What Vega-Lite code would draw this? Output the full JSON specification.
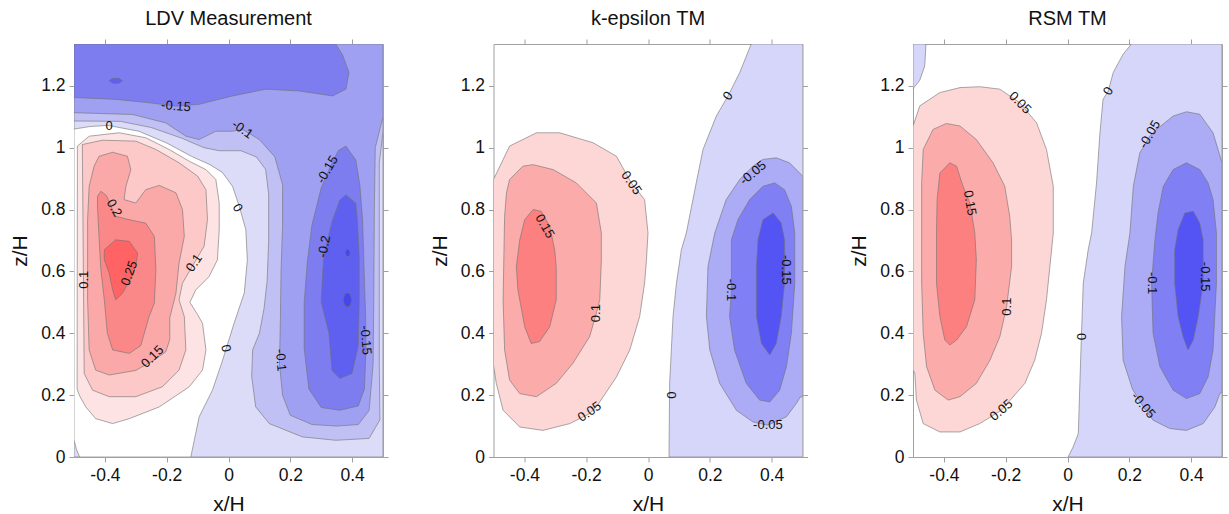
{
"$schema":"https://vega.github.io/schema/vega-lite/v6.json",
"padding":{"left":9,"top":8,"right":0,"bottom":0},
"spacing":39.5,
"config":{"font":"Liberation Sans","view":{"stroke":"#a0a0a0","strokeWidth":1},
"axis":{"labelFont":"Liberation Sans","labelFontSize":17.5,"labelColor":"#111","titleFont":"Liberation Sans","titleFontSize":21,"titleFontWeight":"normal","titleColor":"#111","tickColor":"#a0a0a0","tickSize":5,"domain":false,"grid":false,"labelPadding":4,"titlePadding":10},
"title":{"font":"Liberation Sans","fontSize":20,"fontWeight":"normal","color":"#111","frame":"group","offset":10}},
"datasets":{
"ldv":[
{"p":"l0","l":"L-1","x":-0.5,"z":0},{"p":"l0","l":"L-1","x":-0.5,"z":1.335},{"p":"l0","l":"L-1","x":0.5,"z":1.335},{"p":"l0","l":"L-1","x":0.5,"z":0},{"p":"l0","l":"L-1","x":-0.5,"z":0},
{"p":"l1","l":"L-2","x":-0.5,"z":1.086},{"p":"l1","l":"L-2","x":-0.5,"z":1.335},{"p":"l1","l":"L-2","x":0.5,"z":1.335},{"p":"l1","l":"L-2","x":0.5,"z":1.05},{"p":"l1","l":"L-2","x":0.488,"z":0.95},{"p":"l1","l":"L-2","x":0.488,"z":0.5},{"p":"l1","l":"L-2","x":0.488,"z":0.3},{"p":"l1","l":"L-2","x":0.49,"z":0.12},{"p":"l1","l":"L-2","x":0.455,"z":0.06},{"p":"l1","l":"L-2","x":0.347,"z":0.054},{"p":"l1","l":"L-2","x":0.239,"z":0.065},{"p":"l1","l":"L-2","x":0.132,"z":0.108},{"p":"l1","l":"L-2","x":0.088,"z":0.162},{"p":"l1","l":"L-2","x":0.075,"z":0.26},{"p":"l1","l":"L-2","x":0.078,"z":0.346},{"p":"l1","l":"L-2","x":0.1,"z":0.4},{"p":"l1","l":"L-2","x":0.115,"z":0.48},{"p":"l1","l":"L-2","x":0.125,"z":0.57},{"p":"l1","l":"L-2","x":0.13,"z":0.7},{"p":"l1","l":"L-2","x":0.13,"z":0.85},{"p":"l1","l":"L-2","x":0.12,"z":0.93},{"p":"l1","l":"L-2","x":0.09,"z":0.97},{"p":"l1","l":"L-2","x":0.04,"z":0.99},{"p":"l1","l":"L-2","x":-0.03,"z":0.99},{"p":"l1","l":"L-2","x":-0.08,"z":1.0},{"p":"l1","l":"L-2","x":-0.15,"z":1.03},{"p":"l1","l":"L-2","x":-0.25,"z":1.065},{"p":"l1","l":"L-2","x":-0.35,"z":1.085},{"p":"l1","l":"L-2","x":-0.5,"z":1.086},
{"p":"l2","l":"L-3","x":-0.5,"z":1.113},{"p":"l2","l":"L-3","x":-0.5,"z":1.335},{"p":"l2","l":"L-3","x":0.5,"z":1.335},{"p":"l2","l":"L-3","x":0.5,"z":1.1},{"p":"l2","l":"L-3","x":0.475,"z":1.0},{"p":"l2","l":"L-3","x":0.472,"z":0.8},{"p":"l2","l":"L-3","x":0.47,"z":0.5},{"p":"l2","l":"L-3","x":0.468,"z":0.3},{"p":"l2","l":"L-3","x":0.455,"z":0.15},{"p":"l2","l":"L-3","x":0.42,"z":0.105},{"p":"l2","l":"L-3","x":0.35,"z":0.1},{"p":"l2","l":"L-3","x":0.27,"z":0.105},{"p":"l2","l":"L-3","x":0.2,"z":0.135},{"p":"l2","l":"L-3","x":0.175,"z":0.2},{"p":"l2","l":"L-3","x":0.165,"z":0.3},{"p":"l2","l":"L-3","x":0.168,"z":0.45},{"p":"l2","l":"L-3","x":0.17,"z":0.6},{"p":"l2","l":"L-3","x":0.175,"z":0.75},{"p":"l2","l":"L-3","x":0.175,"z":0.88},{"p":"l2","l":"L-3","x":0.15,"z":0.97},{"p":"l2","l":"L-3","x":0.1,"z":1.026},{"p":"l2","l":"L-3","x":0.045,"z":1.059},{"p":"l2","l":"L-3","x":0.013,"z":1.053},{"p":"l2","l":"L-3","x":-0.041,"z":1.053},{"p":"l2","l":"L-3","x":-0.095,"z":1.026},{"p":"l2","l":"L-3","x":-0.138,"z":1.037},{"p":"l2","l":"L-3","x":-0.203,"z":1.08},{"p":"l2","l":"L-3","x":-0.31,"z":1.107},{"p":"l2","l":"L-3","x":-0.5,"z":1.113},
{"p":"l3","l":"L-4","x":-0.5,"z":1.162},{"p":"l3","l":"L-4","x":-0.5,"z":1.335},{"p":"l3","l":"L-4","x":0.347,"z":1.335},{"p":"l3","l":"L-4","x":0.369,"z":1.3},{"p":"l3","l":"L-4","x":0.39,"z":1.243},{"p":"l3","l":"L-4","x":0.38,"z":1.189},{"p":"l3","l":"L-4","x":0.337,"z":1.167},{"p":"l3","l":"L-4","x":0.229,"z":1.183},{"p":"l3","l":"L-4","x":0.121,"z":1.189},{"p":"l3","l":"L-4","x":0.013,"z":1.167},{"p":"l3","l":"L-4","x":-0.095,"z":1.14},{"p":"l3","l":"L-4","x":-0.17,"z":1.134},{"p":"l3","l":"L-4","x":-0.257,"z":1.145},{"p":"l3","l":"L-4","x":-0.365,"z":1.156},{"p":"l3","l":"L-4","x":-0.5,"z":1.162},
{"p":"l4","l":"L-4","x":0.38,"z":1.005},{"p":"l4","l":"L-4","x":0.412,"z":0.96},{"p":"l4","l":"L-4","x":0.425,"z":0.88},{"p":"l4","l":"L-4","x":0.434,"z":0.767},{"p":"l4","l":"L-4","x":0.439,"z":0.6},{"p":"l4","l":"L-4","x":0.444,"z":0.45},{"p":"l4","l":"L-4","x":0.445,"z":0.35},{"p":"l4","l":"L-4","x":0.44,"z":0.22},{"p":"l4","l":"L-4","x":0.42,"z":0.165},{"p":"l4","l":"L-4","x":0.36,"z":0.151},{"p":"l4","l":"L-4","x":0.3,"z":0.16},{"p":"l4","l":"L-4","x":0.26,"z":0.22},{"p":"l4","l":"L-4","x":0.245,"z":0.35},{"p":"l4","l":"L-4","x":0.245,"z":0.5},{"p":"l4","l":"L-4","x":0.255,"z":0.63},{"p":"l4","l":"L-4","x":0.27,"z":0.75},{"p":"l4","l":"L-4","x":0.3,"z":0.87},{"p":"l4","l":"L-4","x":0.33,"z":0.94},{"p":"l4","l":"L-4","x":0.355,"z":0.99},{"p":"l4","l":"L-4","x":0.38,"z":1.005},
{"p":"l5","l":"L-5","x":0.38,"z":0.848},{"p":"l5","l":"L-5","x":0.412,"z":0.82},{"p":"l5","l":"L-5","x":0.417,"z":0.767},{"p":"l5","l":"L-5","x":0.423,"z":0.65},{"p":"l5","l":"L-5","x":0.423,"z":0.5},{"p":"l5","l":"L-5","x":0.42,"z":0.36},{"p":"l5","l":"L-5","x":0.4,"z":0.27},{"p":"l5","l":"L-5","x":0.36,"z":0.254},{"p":"l5","l":"L-5","x":0.335,"z":0.28},{"p":"l5","l":"L-5","x":0.325,"z":0.4},{"p":"l5","l":"L-5","x":0.3,"z":0.5},{"p":"l5","l":"L-5","x":0.305,"z":0.6},{"p":"l5","l":"L-5","x":0.31,"z":0.66},{"p":"l5","l":"L-5","x":0.337,"z":0.767},{"p":"l5","l":"L-5","x":0.36,"z":0.83},{"p":"l5","l":"L-5","x":0.38,"z":0.848},
{"p":"l6","l":"L-5","x":-0.387,"z":1.216},{"p":"l6","l":"L-5","x":-0.375,"z":1.224},{"p":"l6","l":"L-5","x":-0.355,"z":1.224},{"p":"l6","l":"L-5","x":-0.343,"z":1.216},{"p":"l6","l":"L-5","x":-0.355,"z":1.208},{"p":"l6","l":"L-5","x":-0.375,"z":1.208},{"p":"l6","l":"L-5","x":-0.387,"z":1.216},
{"p":"l7","l":"L-6","x":0.371,"z":0.508},{"p":"l7","l":"L-6","x":0.376,"z":0.526},{"p":"l7","l":"L-6","x":0.385,"z":0.531},{"p":"l7","l":"L-6","x":0.394,"z":0.526},{"p":"l7","l":"L-6","x":0.399,"z":0.508},{"p":"l7","l":"L-6","x":0.394,"z":0.49},{"p":"l7","l":"L-6","x":0.385,"z":0.485},{"p":"l7","l":"L-6","x":0.376,"z":0.49},{"p":"l7","l":"L-6","x":0.371,"z":0.508},
{"p":"l8","l":"L-6","x":0.378,"z":0.66},{"p":"l8","l":"L-6","x":0.381,"z":0.669},{"p":"l8","l":"L-6","x":0.386,"z":0.672},{"p":"l8","l":"L-6","x":0.391,"z":0.669},{"p":"l8","l":"L-6","x":0.394,"z":0.66},{"p":"l8","l":"L-6","x":0.391,"z":0.651},{"p":"l8","l":"L-6","x":0.386,"z":0.648},{"p":"l8","l":"L-6","x":0.381,"z":0.651},{"p":"l8","l":"L-6","x":0.378,"z":0.66},
{"p":"l9","l":"W","x":-0.5,"z":0.055},{"p":"l9","l":"W","x":-0.5,"z":1.06},{"p":"l9","l":"W","x":-0.45,"z":1.068},{"p":"l9","l":"W","x":-0.39,"z":1.072},{"p":"l9","l":"W","x":-0.29,"z":1.053},{"p":"l9","l":"W","x":-0.2,"z":1.015},{"p":"l9","l":"W","x":-0.12,"z":0.972},{"p":"l9","l":"W","x":-0.06,"z":0.945},{"p":"l9","l":"W","x":-0.02,"z":0.92},{"p":"l9","l":"W","x":0.013,"z":0.875},{"p":"l9","l":"W","x":0.035,"z":0.81},{"p":"l9","l":"W","x":0.056,"z":0.735},{"p":"l9","l":"W","x":0.061,"z":0.637},{"p":"l9","l":"W","x":0.051,"z":0.53},{"p":"l9","l":"W","x":0.018,"z":0.432},{"p":"l9","l":"W","x":-0.009,"z":0.346},{"p":"l9","l":"W","x":-0.019,"z":0.313},{"p":"l9","l":"W","x":-0.052,"z":0.216},{"p":"l9","l":"W","x":-0.095,"z":0.13},{"p":"l9","l":"W","x":-0.122,"z":0},{"p":"l9","l":"W","x":-0.482,"z":0},{"p":"l9","l":"W","x":-0.492,"z":0.025},{"p":"l9","l":"W","x":-0.5,"z":0.055},
{"p":"la","l":"L+1","x":-0.49,"z":0.22},{"p":"la","l":"L+1","x":-0.489,"z":1.005},{"p":"la","l":"L+1","x":-0.451,"z":1.037},{"p":"la","l":"L+1","x":-0.354,"z":1.048},{"p":"la","l":"L+1","x":-0.268,"z":1.032},{"p":"la","l":"L+1","x":-0.192,"z":0.994},{"p":"la","l":"L+1","x":-0.127,"z":0.956},{"p":"la","l":"L+1","x":-0.073,"z":0.929},{"p":"la","l":"L+1","x":-0.041,"z":0.897},{"p":"la","l":"L+1","x":-0.03,"z":0.821},{"p":"la","l":"L+1","x":-0.03,"z":0.735},{"p":"la","l":"L+1","x":-0.036,"z":0.637},{"p":"la","l":"L+1","x":-0.063,"z":0.583},{"p":"la","l":"L+1","x":-0.106,"z":0.54},{"p":"la","l":"L+1","x":-0.125,"z":0.5},{"p":"la","l":"L+1","x":-0.1,"z":0.46},{"p":"la","l":"L+1","x":-0.084,"z":0.432},{"p":"la","l":"L+1","x":-0.073,"z":0.346},{"p":"la","l":"L+1","x":-0.084,"z":0.281},{"p":"la","l":"L+1","x":-0.127,"z":0.227},{"p":"la","l":"L+1","x":-0.224,"z":0.162},{"p":"la","l":"L+1","x":-0.321,"z":0.124},{"p":"la","l":"L+1","x":-0.375,"z":0.108},{"p":"la","l":"L+1","x":-0.43,"z":0.124},{"p":"la","l":"L+1","x":-0.462,"z":0.162},{"p":"la","l":"L+1","x":-0.483,"z":0.2},{"p":"la","l":"L+1","x":-0.49,"z":0.22},
{"p":"lb","l":"L+2","x":-0.467,"z":0.27},{"p":"lb","l":"L+2","x":-0.473,"z":1.01},{"p":"lb","l":"L+2","x":-0.408,"z":1.024},{"p":"lb","l":"L+2","x":-0.3,"z":1.021},{"p":"lb","l":"L+2","x":-0.235,"z":0.994},{"p":"lb","l":"L+2","x":-0.16,"z":0.951},{"p":"lb","l":"L+2","x":-0.1,"z":0.908},{"p":"lb","l":"L+2","x":-0.073,"z":0.864},{"p":"lb","l":"L+2","x":-0.068,"z":0.767},{"p":"lb","l":"L+2","x":-0.079,"z":0.681},{"p":"lb","l":"L+2","x":-0.111,"z":0.627},{"p":"lb","l":"L+2","x":-0.149,"z":0.562},{"p":"lb","l":"L+2","x":-0.16,"z":0.508},{"p":"lb","l":"L+2","x":-0.143,"z":0.454},{"p":"lb","l":"L+2","x":-0.138,"z":0.346},{"p":"lb","l":"L+2","x":-0.16,"z":0.281},{"p":"lb","l":"L+2","x":-0.214,"z":0.227},{"p":"lb","l":"L+2","x":-0.3,"z":0.195},{"p":"lb","l":"L+2","x":-0.386,"z":0.195},{"p":"lb","l":"L+2","x":-0.44,"z":0.216},{"p":"lb","l":"L+2","x":-0.467,"z":0.27},
{"p":"lc","l":"L+3","x":-0.435,"z":0.94},{"p":"lc","l":"L+3","x":-0.419,"z":0.972},{"p":"lc","l":"L+3","x":-0.375,"z":0.985},{"p":"lc","l":"L+3","x":-0.327,"z":0.972},{"p":"lc","l":"L+3","x":-0.316,"z":0.929},{"p":"lc","l":"L+3","x":-0.332,"z":0.875},{"p":"lc","l":"L+3","x":-0.338,"z":0.832},{"p":"lc","l":"L+3","x":-0.3,"z":0.821},{"p":"lc","l":"L+3","x":-0.268,"z":0.864},{"p":"lc","l":"L+3","x":-0.224,"z":0.878},{"p":"lc","l":"L+3","x":-0.17,"z":0.854},{"p":"lc","l":"L+3","x":-0.149,"z":0.8},{"p":"lc","l":"L+3","x":-0.143,"z":0.713},{"p":"lc","l":"L+3","x":-0.16,"z":0.627},{"p":"lc","l":"L+3","x":-0.17,"z":0.53},{"p":"lc","l":"L+3","x":-0.19,"z":0.45},{"p":"lc","l":"L+3","x":-0.19,"z":0.38},{"p":"lc","l":"L+3","x":-0.203,"z":0.34},{"p":"lc","l":"L+3","x":-0.246,"z":0.31},{"p":"lc","l":"L+3","x":-0.3,"z":0.28},{"p":"lc","l":"L+3","x":-0.386,"z":0.265},{"p":"lc","l":"L+3","x":-0.43,"z":0.281},{"p":"lc","l":"L+3","x":-0.451,"z":0.346},{"p":"lc","l":"L+3","x":-0.456,"z":0.508},{"p":"lc","l":"L+3","x":-0.456,"z":0.767},{"p":"lc","l":"L+3","x":-0.451,"z":0.875},{"p":"lc","l":"L+3","x":-0.435,"z":0.94},
{"p":"ld","l":"L+4","x":-0.424,"z":0.843},{"p":"ld","l":"L+4","x":-0.413,"z":0.859},{"p":"ld","l":"L+4","x":-0.395,"z":0.845},{"p":"ld","l":"L+4","x":-0.38,"z":0.81},{"p":"ld","l":"L+4","x":-0.365,"z":0.778},{"p":"ld","l":"L+4","x":-0.321,"z":0.767},{"p":"ld","l":"L+4","x":-0.268,"z":0.756},{"p":"ld","l":"L+4","x":-0.24,"z":0.713},{"p":"ld","l":"L+4","x":-0.235,"z":0.605},{"p":"ld","l":"L+4","x":-0.24,"z":0.497},{"p":"ld","l":"L+4","x":-0.257,"z":0.454},{"p":"ld","l":"L+4","x":-0.284,"z":0.36},{"p":"ld","l":"L+4","x":-0.321,"z":0.335},{"p":"ld","l":"L+4","x":-0.375,"z":0.346},{"p":"ld","l":"L+4","x":-0.392,"z":0.4},{"p":"ld","l":"L+4","x":-0.402,"z":0.508},{"p":"ld","l":"L+4","x":-0.413,"z":0.605},{"p":"ld","l":"L+4","x":-0.419,"z":0.713},{"p":"ld","l":"L+4","x":-0.424,"z":0.81},{"p":"ld","l":"L+4","x":-0.424,"z":0.843},
{"p":"le","l":"L+5","x":-0.402,"z":0.67},{"p":"le","l":"L+5","x":-0.365,"z":0.702},{"p":"le","l":"L+5","x":-0.321,"z":0.697},{"p":"le","l":"L+5","x":-0.294,"z":0.659},{"p":"le","l":"L+5","x":-0.3,"z":0.616},{"p":"le","l":"L+5","x":-0.32,"z":0.57},{"p":"le","l":"L+5","x":-0.343,"z":0.529},{"p":"le","l":"L+5","x":-0.365,"z":0.508},{"p":"le","l":"L+5","x":-0.375,"z":0.54},{"p":"le","l":"L+5","x":-0.386,"z":0.594},{"p":"le","l":"L+5","x":-0.402,"z":0.637},{"p":"le","l":"L+5","x":-0.402,"z":0.67}
],
"kep":[
{"p":"k0","l":"K-1","x":0.068,"z":0},{"p":"k0","l":"K-1","x":0.07,"z":0.238},{"p":"k0","l":"K-1","x":0.081,"z":0.454},{"p":"k0","l":"K-1","x":0.092,"z":0.562},{"p":"k0","l":"K-1","x":0.108,"z":0.67},{"p":"k0","l":"K-1","x":0.124,"z":0.724},{"p":"k0","l":"K-1","x":0.156,"z":0.886},{"p":"k0","l":"K-1","x":0.178,"z":0.994},{"p":"k0","l":"K-1","x":0.221,"z":1.102},{"p":"k0","l":"K-1","x":0.259,"z":1.167},{"p":"k0","l":"K-1","x":0.297,"z":1.243},{"p":"k0","l":"K-1","x":0.334,"z":1.335},{"p":"k0","l":"K-1","x":0.5,"z":1.335},{"p":"k0","l":"K-1","x":0.5,"z":0},{"p":"k0","l":"K-1","x":0.068,"z":0},
{"p":"k1","l":"K-2","x":0.34,"z":0.94},{"p":"k1","l":"K-2","x":0.372,"z":0.962},{"p":"k1","l":"K-2","x":0.415,"z":0.967},{"p":"k1","l":"K-2","x":0.458,"z":0.951},{"p":"k1","l":"K-2","x":0.491,"z":0.918},{"p":"k1","l":"K-2","x":0.5,"z":0.908},{"p":"k1","l":"K-2","x":0.5,"z":0.194},{"p":"k1","l":"K-2","x":0.493,"z":0.194},{"p":"k1","l":"K-2","x":0.48,"z":0.173},{"p":"k1","l":"K-2","x":0.448,"z":0.13},{"p":"k1","l":"K-2","x":0.388,"z":0.103},{"p":"k1","l":"K-2","x":0.34,"z":0.113},{"p":"k1","l":"K-2","x":0.286,"z":0.151},{"p":"k1","l":"K-2","x":0.232,"z":0.238},{"p":"k1","l":"K-2","x":0.2,"z":0.346},{"p":"k1","l":"K-2","x":0.189,"z":0.454},{"p":"k1","l":"K-2","x":0.194,"z":0.616},{"p":"k1","l":"K-2","x":0.216,"z":0.724},{"p":"k1","l":"K-2","x":0.253,"z":0.832},{"p":"k1","l":"K-2","x":0.297,"z":0.897},{"p":"k1","l":"K-2","x":0.34,"z":0.94},
{"p":"k2","l":"K-3","x":0.41,"z":0.886},{"p":"k2","l":"K-3","x":0.442,"z":0.864},{"p":"k2","l":"K-3","x":0.464,"z":0.81},{"p":"k2","l":"K-3","x":0.475,"z":0.724},{"p":"k2","l":"K-3","x":0.475,"z":0.562},{"p":"k2","l":"K-3","x":0.464,"z":0.4},{"p":"k2","l":"K-3","x":0.448,"z":0.292},{"p":"k2","l":"K-3","x":0.426,"z":0.216},{"p":"k2","l":"K-3","x":0.394,"z":0.178},{"p":"k2","l":"K-3","x":0.361,"z":0.184},{"p":"k2","l":"K-3","x":0.318,"z":0.238},{"p":"k2","l":"K-3","x":0.28,"z":0.346},{"p":"k2","l":"K-3","x":0.264,"z":0.454},{"p":"k2","l":"K-3","x":0.27,"z":0.54},{"p":"k2","l":"K-3","x":0.27,"z":0.702},{"p":"k2","l":"K-3","x":0.291,"z":0.767},{"p":"k2","l":"K-3","x":0.329,"z":0.832},{"p":"k2","l":"K-3","x":0.372,"z":0.875},{"p":"k2","l":"K-3","x":0.41,"z":0.886},
{"p":"k3","l":"K-4","x":0.405,"z":0.789},{"p":"k3","l":"K-4","x":0.431,"z":0.756},{"p":"k3","l":"K-4","x":0.442,"z":0.702},{"p":"k3","l":"K-4","x":0.442,"z":0.562},{"p":"k3","l":"K-4","x":0.431,"z":0.454},{"p":"k3","l":"K-4","x":0.415,"z":0.367},{"p":"k3","l":"K-4","x":0.394,"z":0.33},{"p":"k3","l":"K-4","x":0.367,"z":0.367},{"p":"k3","l":"K-4","x":0.351,"z":0.454},{"p":"k3","l":"K-4","x":0.351,"z":0.616},{"p":"k3","l":"K-4","x":0.356,"z":0.702},{"p":"k3","l":"K-4","x":0.372,"z":0.767},{"p":"k3","l":"K-4","x":0.405,"z":0.789},
{"p":"k4","l":"K+1","x":-0.5,"z":0.897},{"p":"k4","l":"K+1","x":-0.448,"z":1.005},{"p":"k4","l":"K+1","x":-0.361,"z":1.048},{"p":"k4","l":"K+1","x":-0.286,"z":1.048},{"p":"k4","l":"K+1","x":-0.178,"z":1.016},{"p":"k4","l":"K+1","x":-0.102,"z":0.972},{"p":"k4","l":"K+1","x":-0.054,"z":0.886},{"p":"k4","l":"K+1","x":-0.011,"z":0.832},{"p":"k4","l":"K+1","x":0,"z":0.724},{"p":"k4","l":"K+1","x":-0.005,"z":0.637},{"p":"k4","l":"K+1","x":-0.011,"z":0.562},{"p":"k4","l":"K+1","x":-0.027,"z":0.454},{"p":"k4","l":"K+1","x":-0.059,"z":0.346},{"p":"k4","l":"K+1","x":-0.102,"z":0.259},{"p":"k4","l":"K+1","x":-0.167,"z":0.162},{"p":"k4","l":"K+1","x":-0.189,"z":0.14},{"p":"k4","l":"K+1","x":-0.253,"z":0.108},{"p":"k4","l":"K+1","x":-0.34,"z":0.086},{"p":"k4","l":"K+1","x":-0.415,"z":0.097},{"p":"k4","l":"K+1","x":-0.469,"z":0.151},{"p":"k4","l":"K+1","x":-0.491,"z":0.238},{"p":"k4","l":"K+1","x":-0.5,"z":0.297},{"p":"k4","l":"K+1","x":-0.5,"z":0.897},
{"p":"k5","l":"K+2","x":-0.458,"z":0.854},{"p":"k5","l":"K+2","x":-0.448,"z":0.897},{"p":"k5","l":"K+2","x":-0.405,"z":0.94},{"p":"k5","l":"K+2","x":-0.372,"z":0.945},{"p":"k5","l":"K+2","x":-0.307,"z":0.929},{"p":"k5","l":"K+2","x":-0.232,"z":0.886},{"p":"k5","l":"K+2","x":-0.167,"z":0.821},{"p":"k5","l":"K+2","x":-0.151,"z":0.724},{"p":"k5","l":"K+2","x":-0.151,"z":0.637},{"p":"k5","l":"K+2","x":-0.156,"z":0.508},{"p":"k5","l":"K+2","x":-0.167,"z":0.465},{"p":"k5","l":"K+2","x":-0.189,"z":0.389},{"p":"k5","l":"K+2","x":-0.243,"z":0.303},{"p":"k5","l":"K+2","x":-0.297,"z":0.238},{"p":"k5","l":"K+2","x":-0.361,"z":0.195},{"p":"k5","l":"K+2","x":-0.415,"z":0.205},{"p":"k5","l":"K+2","x":-0.448,"z":0.249},{"p":"k5","l":"K+2","x":-0.464,"z":0.346},{"p":"k5","l":"K+2","x":-0.469,"z":0.508},{"p":"k5","l":"K+2","x":-0.464,"z":0.778},{"p":"k5","l":"K+2","x":-0.458,"z":0.854},
{"p":"k6","l":"K+3","x":-0.372,"z":0.8},{"p":"k6","l":"K+3","x":-0.345,"z":0.794},{"p":"k6","l":"K+3","x":-0.318,"z":0.746},{"p":"k6","l":"K+3","x":-0.302,"z":0.67},{"p":"k6","l":"K+3","x":-0.297,"z":0.616},{"p":"k6","l":"K+3","x":-0.297,"z":0.508},{"p":"k6","l":"K+3","x":-0.318,"z":0.421},{"p":"k6","l":"K+3","x":-0.351,"z":0.373},{"p":"k6","l":"K+3","x":-0.378,"z":0.367},{"p":"k6","l":"K+3","x":-0.399,"z":0.421},{"p":"k6","l":"K+3","x":-0.421,"z":0.54},{"p":"k6","l":"K+3","x":-0.426,"z":0.616},{"p":"k6","l":"K+3","x":-0.415,"z":0.702},{"p":"k6","l":"K+3","x":-0.399,"z":0.767},{"p":"k6","l":"K+3","x":-0.372,"z":0.8}
],
"rsm":[
{"p":"r0","l":"K-1","x":0.002,"z":0},{"p":"r0","l":"K-1","x":0.018,"z":0.032},{"p":"r0","l":"K-1","x":0.035,"z":0.076},{"p":"r0","l":"K-1","x":0.04,"z":0.238},{"p":"r0","l":"K-1","x":0.045,"z":0.389},{"p":"r0","l":"K-1","x":0.051,"z":0.562},{"p":"r0","l":"K-1","x":0.067,"z":0.67},{"p":"r0","l":"K-1","x":0.078,"z":0.724},{"p":"r0","l":"K-1","x":0.094,"z":0.886},{"p":"r0","l":"K-1","x":0.105,"z":1.048},{"p":"r0","l":"K-1","x":0.115,"z":1.156},{"p":"r0","l":"K-1","x":0.132,"z":1.183},{"p":"r0","l":"K-1","x":0.148,"z":1.243},{"p":"r0","l":"K-1","x":0.18,"z":1.302},{"p":"r0","l":"K-1","x":0.207,"z":1.335},{"p":"r0","l":"K-1","x":0.5,"z":1.335},{"p":"r0","l":"K-1","x":0.5,"z":0},{"p":"r0","l":"K-1","x":0.002,"z":0},
{"p":"r1","l":"K-1","x":-0.5,"z":1.19},{"p":"r1","l":"K-1","x":-0.478,"z":1.218},{"p":"r1","l":"K-1","x":-0.462,"z":1.264},{"p":"r1","l":"K-1","x":-0.458,"z":1.335},{"p":"r1","l":"K-1","x":-0.5,"z":1.335},{"p":"r1","l":"K-1","x":-0.5,"z":1.19},
{"p":"r2","l":"K-2","x":0.5,"z":0.951},{"p":"r2","l":"K-2","x":0.471,"z":1.048},{"p":"r2","l":"K-2","x":0.428,"z":1.108},{"p":"r2","l":"K-2","x":0.385,"z":1.116},{"p":"r2","l":"K-2","x":0.342,"z":1.102},{"p":"r2","l":"K-2","x":0.288,"z":1.059},{"p":"r2","l":"K-2","x":0.266,"z":1.037},{"p":"r2","l":"K-2","x":0.234,"z":0.983},{"p":"r2","l":"K-2","x":0.213,"z":0.875},{"p":"r2","l":"K-2","x":0.202,"z":0.724},{"p":"r2","l":"K-2","x":0.186,"z":0.616},{"p":"r2","l":"K-2","x":0.175,"z":0.454},{"p":"r2","l":"K-2","x":0.18,"z":0.313},{"p":"r2","l":"K-2","x":0.21,"z":0.22},{"p":"r2","l":"K-2","x":0.245,"z":0.162},{"p":"r2","l":"K-2","x":0.277,"z":0.119},{"p":"r2","l":"K-2","x":0.331,"z":0.092},{"p":"r2","l":"K-2","x":0.385,"z":0.086},{"p":"r2","l":"K-2","x":0.439,"z":0.108},{"p":"r2","l":"K-2","x":0.477,"z":0.162},{"p":"r2","l":"K-2","x":0.493,"z":0.205},{"p":"r2","l":"K-2","x":0.5,"z":0.21},{"p":"r2","l":"K-2","x":0.5,"z":0.951},
{"p":"r3","l":"K-3","x":0.428,"z":0.929},{"p":"r3","l":"K-3","x":0.455,"z":0.886},{"p":"r3","l":"K-3","x":0.471,"z":0.832},{"p":"r3","l":"K-3","x":0.482,"z":0.724},{"p":"r3","l":"K-3","x":0.482,"z":0.562},{"p":"r3","l":"K-3","x":0.471,"z":0.346},{"p":"r3","l":"K-3","x":0.455,"z":0.259},{"p":"r3","l":"K-3","x":0.428,"z":0.205},{"p":"r3","l":"K-3","x":0.385,"z":0.189},{"p":"r3","l":"K-3","x":0.342,"z":0.216},{"p":"r3","l":"K-3","x":0.299,"z":0.292},{"p":"r3","l":"K-3","x":0.277,"z":0.4},{"p":"r3","l":"K-3","x":0.272,"z":0.562},{"p":"r3","l":"K-3","x":0.283,"z":0.702},{"p":"r3","l":"K-3","x":0.293,"z":0.789},{"p":"r3","l":"K-3","x":0.31,"z":0.875},{"p":"r3","l":"K-3","x":0.342,"z":0.929},{"p":"r3","l":"K-3","x":0.385,"z":0.951},{"p":"r3","l":"K-3","x":0.428,"z":0.929},
{"p":"r4","l":"K-4","x":0.407,"z":0.794},{"p":"r4","l":"K-4","x":0.428,"z":0.756},{"p":"r4","l":"K-4","x":0.439,"z":0.702},{"p":"r4","l":"K-4","x":0.439,"z":0.562},{"p":"r4","l":"K-4","x":0.423,"z":0.454},{"p":"r4","l":"K-4","x":0.407,"z":0.378},{"p":"r4","l":"K-4","x":0.39,"z":0.346},{"p":"r4","l":"K-4","x":0.374,"z":0.389},{"p":"r4","l":"K-4","x":0.358,"z":0.454},{"p":"r4","l":"K-4","x":0.347,"z":0.562},{"p":"r4","l":"K-4","x":0.347,"z":0.67},{"p":"r4","l":"K-4","x":0.358,"z":0.735},{"p":"r4","l":"K-4","x":0.38,"z":0.789},{"p":"r4","l":"K-4","x":0.407,"z":0.794},
{"p":"r5","l":"K+1","x":-0.5,"z":1.07},{"p":"r5","l":"K+1","x":-0.478,"z":1.135},{"p":"r5","l":"K+1","x":-0.413,"z":1.178},{"p":"r5","l":"K+1","x":-0.348,"z":1.194},{"p":"r5","l":"K+1","x":-0.284,"z":1.197},{"p":"r5","l":"K+1","x":-0.219,"z":1.189},{"p":"r5","l":"K+1","x":-0.154,"z":1.145},{"p":"r5","l":"K+1","x":-0.1,"z":1.08},{"p":"r5","l":"K+1","x":-0.068,"z":0.994},{"p":"r5","l":"K+1","x":-0.046,"z":0.875},{"p":"r5","l":"K+1","x":-0.046,"z":0.724},{"p":"r5","l":"K+1","x":-0.057,"z":0.616},{"p":"r5","l":"K+1","x":-0.068,"z":0.508},{"p":"r5","l":"K+1","x":-0.084,"z":0.4},{"p":"r5","l":"K+1","x":-0.106,"z":0.313},{"p":"r5","l":"K+1","x":-0.138,"z":0.238},{"p":"r5","l":"K+1","x":-0.214,"z":0.151},{"p":"r5","l":"K+1","x":-0.284,"z":0.108},{"p":"r5","l":"K+1","x":-0.348,"z":0.081},{"p":"r5","l":"K+1","x":-0.413,"z":0.081},{"p":"r5","l":"K+1","x":-0.467,"z":0.108},{"p":"r5","l":"K+1","x":-0.489,"z":0.184},{"p":"r5","l":"K+1","x":-0.494,"z":0.27},{"p":"r5","l":"K+1","x":-0.5,"z":0.281},{"p":"r5","l":"K+1","x":-0.5,"z":1.07},
{"p":"r6","l":"K+2","x":-0.472,"z":0.886},{"p":"r6","l":"K+2","x":-0.467,"z":0.994},{"p":"r6","l":"K+2","x":-0.435,"z":1.059},{"p":"r6","l":"K+2","x":-0.392,"z":1.078},{"p":"r6","l":"K+2","x":-0.348,"z":1.07},{"p":"r6","l":"K+2","x":-0.295,"z":1.026},{"p":"r6","l":"K+2","x":-0.241,"z":0.951},{"p":"r6","l":"K+2","x":-0.203,"z":0.875},{"p":"r6","l":"K+2","x":-0.187,"z":0.778},{"p":"r6","l":"K+2","x":-0.181,"z":0.702},{"p":"r6","l":"K+2","x":-0.181,"z":0.616},{"p":"r6","l":"K+2","x":-0.197,"z":0.486},{"p":"r6","l":"K+2","x":-0.219,"z":0.389},{"p":"r6","l":"K+2","x":-0.251,"z":0.313},{"p":"r6","l":"K+2","x":-0.295,"z":0.238},{"p":"r6","l":"K+2","x":-0.348,"z":0.195},{"p":"r6","l":"K+2","x":-0.386,"z":0.184},{"p":"r6","l":"K+2","x":-0.429,"z":0.216},{"p":"r6","l":"K+2","x":-0.456,"z":0.292},{"p":"r6","l":"K+2","x":-0.467,"z":0.4},{"p":"r6","l":"K+2","x":-0.472,"z":0.562},{"p":"r6","l":"K+2","x":-0.472,"z":0.724},{"p":"r6","l":"K+2","x":-0.472,"z":0.886},
{"p":"r7","l":"K+3","x":-0.413,"z":0.918},{"p":"r7","l":"K+3","x":-0.381,"z":0.951},{"p":"r7","l":"K+3","x":-0.359,"z":0.94},{"p":"r7","l":"K+3","x":-0.338,"z":0.875},{"p":"r7","l":"K+3","x":-0.316,"z":0.821},{"p":"r7","l":"K+3","x":-0.3,"z":0.724},{"p":"r7","l":"K+3","x":-0.295,"z":0.637},{"p":"r7","l":"K+3","x":-0.3,"z":0.508},{"p":"r7","l":"K+3","x":-0.327,"z":0.421},{"p":"r7","l":"K+3","x":-0.359,"z":0.378},{"p":"r7","l":"K+3","x":-0.381,"z":0.362},{"p":"r7","l":"K+3","x":-0.397,"z":0.378},{"p":"r7","l":"K+3","x":-0.413,"z":0.454},{"p":"r7","l":"K+3","x":-0.424,"z":0.562},{"p":"r7","l":"K+3","x":-0.424,"z":0.724},{"p":"r7","l":"K+3","x":-0.422,"z":0.832},{"p":"r7","l":"K+3","x":-0.413,"z":0.918}
],
"lab":[
{"g":"ldv","t":"-0.15","x":-0.17,"z":1.134,"a":5},{"g":"ldv","t":"-0.1","x":0.045,"z":1.059,"a":35},{"g":"ldv","t":"0","x":-0.386,"z":1.07,"a":0},{"g":"ldv","t":"-0.15","x":0.32,"z":0.929,"a":-60},{"g":"ldv","t":"0","x":0.029,"z":0.805,"a":60},{"g":"ldv","t":"0.2","x":-0.37,"z":0.805,"a":60},{"g":"ldv","t":"-0.2","x":0.31,"z":0.68,"a":-80},{"g":"ldv","t":"0.1","x":-0.467,"z":0.573,"a":-90},{"g":"ldv","t":"0.25","x":-0.321,"z":0.594,"a":-70},{"g":"ldv","t":"0.1","x":-0.111,"z":0.627,"a":-55},{"g":"ldv","t":"0","x":-0.009,"z":0.351,"a":80},{"g":"ldv","t":"0.15","x":-0.246,"z":0.324,"a":-45},{"g":"ldv","t":"-0.1","x":0.169,"z":0.313,"a":85},{"g":"ldv","t":"-0.15","x":0.444,"z":0.378,"a":85},
{"g":"kep","t":"0","x":0.259,"z":1.167,"a":-55},{"g":"kep","t":"0.05","x":-0.054,"z":0.886,"a":55},{"g":"kep","t":"-0.05","x":0.34,"z":0.918,"a":-40},{"g":"kep","t":"0.15","x":-0.334,"z":0.746,"a":60},{"g":"kep","t":"-0.15","x":0.448,"z":0.605,"a":90},{"g":"kep","t":"-0.1","x":0.27,"z":0.54,"a":90},{"g":"kep","t":"0.1","x":-0.167,"z":0.465,"a":-90},{"g":"kep","t":"0","x":0.076,"z":0.2,"a":90},{"g":"kep","t":"0.05","x":-0.189,"z":0.146,"a":-35},{"g":"kep","t":"-0.05","x":0.388,"z":0.103,"a":0},
{"g":"rsm","t":"0.05","x":-0.154,"z":1.145,"a":45},{"g":"rsm","t":"0","x":0.132,"z":1.183,"a":-60},{"g":"rsm","t":"-0.05","x":0.266,"z":1.043,"a":-60},{"g":"rsm","t":"0.15","x":-0.316,"z":0.821,"a":80},{"g":"rsm","t":"0.1","x":-0.197,"z":0.486,"a":-90},{"g":"rsm","t":"0","x":0.045,"z":0.389,"a":90},{"g":"rsm","t":"-0.1","x":0.272,"z":0.562,"a":90},{"g":"rsm","t":"-0.15","x":0.444,"z":0.583,"a":90},{"g":"rsm","t":"0.05","x":-0.214,"z":0.151,"a":-40},{"g":"rsm","t":"-0.05","x":0.245,"z":0.167,"a":50}
]
},
"hconcat":[
{"title":"LDV Measurement","width":309,"height":413,"resolve":{"axis":{"x":"independent","y":"independent"}},
"layer":[
{"data":{"name":"ldv"},"mark":{"type":"line","stroke":"#707070","strokeWidth":0.6,"strokeJoin":"round","clip":true},
"encoding":{"x":{"field":"x","type":"quantitative","scale":{"domain":[-0.5,0.5],"nice":false,"zero":false},"axis":{"orient":"bottom","title":"x/H","values":[-0.4,-0.2,0,0.2,0.4],"labelExpr":"(datum.value < 0 ? '-' : '') + format(abs(datum.value), '~g')"}},
"y":{"field":"z","type":"quantitative","scale":{"domain":[0,1.335],"nice":false,"zero":false},"axis":{"orient":"left","title":"z/H","values":[0,0.2,0.4,0.6,0.8,1,1.2],"labelExpr":"format(datum.value, '~g')"}},
"detail":{"field":"p"},"order":{"value":null},
"fill":{"field":"l","type":"nominal","legend":null,"scale":{"domain":["W","L-1","L-2","L-3","L-4","L-5","L-6","L+1","L+2","L+3","L+4","L+5","K-1","K-2","K-3","K-4","K+1","K+2","K+3"],"range":["#ffffff","#dcdcf8","#c0c0f5","#a0a0f2","#7d7df0","#5f5ff0","#4646ee","#fde3e3","#fcc8c8","#fba8a8","#fa8888","#ff6363","#d6d6fa","#ababf6","#8080f4","#5454f4","#fdd6d6","#fcabab","#fd8080"]}}}},
{"data":{"name":"lab"},"transform":[{"filter":"datum.g === 'ldv'"}],"mark":{"type":"text","fontSize":13,"color":"#111"},
"encoding":{"x":{"field":"x","type":"quantitative","axis":{"orient":"top","values":[-0.4,-0.2,0,0.2,0.4],"labels":false,"title":null}},"y":{"field":"z","type":"quantitative","axis":{"orient":"right","values":[0,0.2,0.4,0.6,0.8,1,1.2],"labels":false,"title":null}},"text":{"field":"t"},"angle":{"field":"a","type":"quantitative","scale":null}}}
]},
{"title":"k-epsilon TM","width":309,"height":413,"resolve":{"axis":{"x":"independent","y":"independent"}},
"layer":[
{"data":{"name":"kep"},"mark":{"type":"line","stroke":"#707070","strokeWidth":0.6,"strokeJoin":"round","clip":true},
"encoding":{"x":{"field":"x","type":"quantitative","scale":{"domain":[-0.5,0.5],"nice":false,"zero":false},"axis":{"orient":"bottom","title":"x/H","values":[-0.4,-0.2,0,0.2,0.4],"labelExpr":"(datum.value < 0 ? '-' : '') + format(abs(datum.value), '~g')"}},
"y":{"field":"z","type":"quantitative","scale":{"domain":[0,1.335],"nice":false,"zero":false},"axis":{"orient":"left","title":"z/H","values":[0,0.2,0.4,0.6,0.8,1,1.2],"labelExpr":"format(datum.value, '~g')"}},
"detail":{"field":"p"},"order":{"value":null},
"fill":{"field":"l","type":"nominal","legend":null}}},
{"data":{"name":"lab"},"transform":[{"filter":"datum.g === 'kep'"}],"mark":{"type":"text","fontSize":13,"color":"#111"},
"encoding":{"x":{"field":"x","type":"quantitative","axis":{"orient":"top","values":[-0.4,-0.2,0,0.2,0.4],"labels":false,"title":null}},"y":{"field":"z","type":"quantitative","axis":{"orient":"right","values":[0,0.2,0.4,0.6,0.8,1,1.2],"labels":false,"title":null}},"text":{"field":"t"},"angle":{"field":"a","type":"quantitative","scale":null}}}
]},
{"title":"RSM TM","width":309,"height":413,"resolve":{"axis":{"x":"independent","y":"independent"}},
"layer":[
{"data":{"name":"rsm"},"mark":{"type":"line","stroke":"#707070","strokeWidth":0.6,"strokeJoin":"round","clip":true},
"encoding":{"x":{"field":"x","type":"quantitative","scale":{"domain":[-0.5,0.5],"nice":false,"zero":false},"axis":{"orient":"bottom","title":"x/H","values":[-0.4,-0.2,0,0.2,0.4],"labelExpr":"(datum.value < 0 ? '-' : '') + format(abs(datum.value), '~g')"}},
"y":{"field":"z","type":"quantitative","scale":{"domain":[0,1.335],"nice":false,"zero":false},"axis":{"orient":"left","title":"z/H","values":[0,0.2,0.4,0.6,0.8,1,1.2],"labelExpr":"format(datum.value, '~g')"}},
"detail":{"field":"p"},"order":{"value":null},
"fill":{"field":"l","type":"nominal","legend":null}}},
{"data":{"name":"lab"},"transform":[{"filter":"datum.g === 'rsm'"}],"mark":{"type":"text","fontSize":13,"color":"#111"},
"encoding":{"x":{"field":"x","type":"quantitative","axis":{"orient":"top","values":[-0.4,-0.2,0,0.2,0.4],"labels":false,"title":null}},"y":{"field":"z","type":"quantitative","axis":{"orient":"right","values":[0,0.2,0.4,0.6,0.8,1,1.2],"labels":false,"title":null}},"text":{"field":"t"},"angle":{"field":"a","type":"quantitative","scale":null}}}
]}
]
}
